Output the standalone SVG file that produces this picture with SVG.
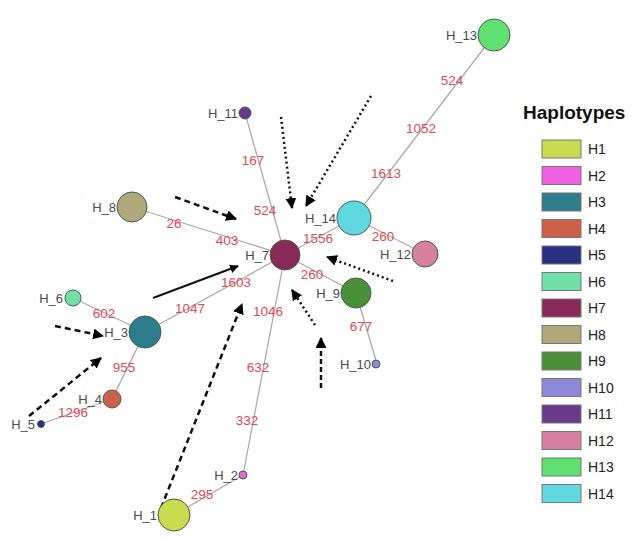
<svg xmlns="http://www.w3.org/2000/svg" width="644" height="540" viewBox="0 0 644 540">
<defs>
<marker id="ah" viewBox="0 0 10 10" refX="9" refY="5" markerWidth="4.4" markerHeight="4.4" orient="auto" markerUnits="strokeWidth">
<path d="M0,0 L10,5 L0,10 z" fill="#000"/>
</marker>
<style>
.e{stroke:#aaaaaa;stroke-width:1.3;fill:none}
.n{stroke:#4a5a50;stroke-width:1}
.nl{font-family:"Liberation Sans",Arial,sans-serif;font-size:13px;fill:#4a4a4a;text-anchor:end}
.w{font-family:"Liberation Sans",Arial,sans-serif;font-size:13.5px;fill:#e04a55;text-anchor:middle}
.dash{stroke:#111;stroke-width:2.5;stroke-dasharray:6 4;fill:none}
.dot{stroke:#111;stroke-width:2.5;stroke-dasharray:2 3;fill:none}
.sol{stroke:#111;stroke-width:2;fill:none}
.sw{stroke:#777;stroke-width:1}
.lt{font-family:"Liberation Sans",Arial,sans-serif;font-size:14px;fill:#222}
</style>
</defs>
<rect width="644" height="540" fill="#fff"/>
<g id="connectors">
<line class="e" x1="494" y1="35" x2="354" y2="218"/>
<line class="e" x1="354" y1="218" x2="285" y2="255"/>
<line class="e" x1="354" y1="218" x2="425" y2="254"/>
<line class="e" x1="285" y1="255" x2="245" y2="113"/>
<line class="e" x1="285" y1="255" x2="132" y2="207"/>
<line class="e" x1="285" y1="255" x2="145" y2="332"/>
<line class="e" x1="285" y1="255" x2="356" y2="293"/>
<line class="e" x1="356" y1="293" x2="377" y2="364"/>
<line class="e" x1="285" y1="255" x2="243" y2="475"/>
<line class="e" x1="243" y1="475" x2="174" y2="515"/>
<line class="e" x1="145" y1="332" x2="73" y2="298"/>
<line class="e" x1="145" y1="332" x2="112" y2="399"/>
<line class="e" x1="112" y1="399" x2="41" y2="424"/>
<g id="weights">
<text class="w" x="452" y="85">524</text>
<text class="w" x="421" y="133">1052</text>
<text class="w" x="386" y="178">1613</text>
<text class="w" x="318" y="243">1556</text>
<text class="w" x="383" y="241">260</text>
<text class="w" x="253" y="165">167</text>
<text class="w" x="265" y="215">524</text>
<text class="w" x="174" y="228">26</text>
<text class="w" x="227" y="245">403</text>
<text class="w" x="236" y="287">1603</text>
<text class="w" x="190" y="313">1047</text>
<text class="w" x="312" y="279">260</text>
<text class="w" x="361" y="331">677</text>
<text class="w" x="268" y="316">1046</text>
<text class="w" x="258" y="372">632</text>
<text class="w" x="247" y="425">332</text>
<text class="w" x="202" y="499">295</text>
<text class="w" x="104" y="318">602</text>
<text class="w" x="124" y="372">955</text>
<text class="w" x="73" y="417">1296</text>
</g>
<g id="arrows">
<line class="dash" x1="175" y1="197" x2="236" y2="219" marker-end="url(#ah)"/>
<line class="dot" x1="281" y1="117" x2="292" y2="208" marker-end="url(#ah)"/>
<line class="dot" x1="371" y1="96" x2="306" y2="206" marker-end="url(#ah)"/>
<line class="dot" x1="393" y1="281" x2="327" y2="257" marker-end="url(#ah)"/>
<line class="dot" x1="315" y1="325" x2="292" y2="290" marker-end="url(#ah)"/>
<line class="dash" x1="321" y1="388" x2="321" y2="338" marker-end="url(#ah)" style="stroke-dasharray:5 3"/>
<line class="sol" x1="153" y1="298" x2="238" y2="266" marker-end="url(#ah)"/>
<line class="dash" x1="55" y1="326" x2="103" y2="336" marker-end="url(#ah)"/>
<line class="dash" x1="29" y1="416" x2="101" y2="358" marker-end="url(#ah)"/>
<line class="dash" x1="161" y1="508" x2="242" y2="304" marker-end="url(#ah)"/>
</g>
</g>
<g id="H_13"><circle class="n" cx="494" cy="35" r="16" fill="#60e070"/><text class="nl" x="477" y="40">H_13</text></g>
<g id="H_14"><circle class="n" cx="354" cy="218" r="17" fill="#60d8e0"/><text class="nl" x="336" y="223">H_14</text></g>
<g id="H_12"><circle class="n" cx="425" cy="254" r="13" fill="#d880a0"/><text class="nl" x="411" y="259">H_12</text></g>
<g id="H_7"><circle class="n" cx="285" cy="255" r="15" fill="#8a2a5a"/><text class="nl" x="269" y="260">H_7</text></g>
<g id="H_11"><circle class="n" cx="245" cy="113" r="6" fill="#6a3a8a"/><text class="nl" x="238" y="118">H_11</text></g>
<g id="H_8"><circle class="n" cx="132" cy="207" r="15" fill="#b0a878"/><text class="nl" x="116" y="212">H_8</text></g>
<g id="H_9"><circle class="n" cx="356" cy="293" r="15" fill="#4a9038"/><text class="nl" x="340" y="298">H_9</text></g>
<g id="H_10"><circle class="n" cx="376" cy="364" r="4" fill="#9088d8"/><text class="nl" x="371" y="369">H_10</text></g>
<g id="H_6"><circle class="n" cx="73" cy="298" r="8" fill="#70e0a8"/><text class="nl" x="63" y="303">H_6</text></g>
<g id="H_3"><circle class="n" cx="145" cy="332" r="16" fill="#2e7d8a"/><text class="nl" x="128" y="337">H_3</text></g>
<g id="H_4"><circle class="n" cx="112" cy="399" r="9" fill="#cc6048"/><text class="nl" x="102" y="404">H_4</text></g>
<g id="H_5"><circle class="n" cx="41" cy="424" r="3.5" fill="#283080"/><text class="nl" x="35" y="429">H_5</text></g>
<g id="H_2"><circle class="n" cx="243" cy="475" r="4" fill="#e070d0"/><text class="nl" x="238" y="480">H_2</text></g>
<g id="H_1"><circle class="n" cx="174" cy="515" r="16" fill="#c8dc50"/><text class="nl" x="157" y="520">H_1</text></g>
<g id="legend">
<text x="523" y="119" font-family="Liberation Sans,Arial,sans-serif" font-size="19" font-weight="bold" fill="#111">Haplotypes</text>
<rect class="sw" x="542" y="140" width="39" height="18" fill="#c8dc50"/><text class="lt" x="588" y="154">H1</text>
<rect class="sw" x="542" y="166.5" width="39" height="18" fill="#f060e0"/><text class="lt" x="588" y="180.5">H2</text>
<rect class="sw" x="542" y="193" width="39" height="18" fill="#2e7d8a"/><text class="lt" x="588" y="207">H3</text>
<rect class="sw" x="542" y="219.5" width="39" height="18" fill="#cc6048"/><text class="lt" x="588" y="233.5">H4</text>
<rect class="sw" x="542" y="246" width="39" height="18" fill="#283080"/><text class="lt" x="588" y="260">H5</text>
<rect class="sw" x="542" y="272.5" width="39" height="18" fill="#70e0a8"/><text class="lt" x="588" y="286.5">H6</text>
<rect class="sw" x="542" y="299" width="39" height="18" fill="#8a2a5a"/><text class="lt" x="588" y="313">H7</text>
<rect class="sw" x="542" y="325.5" width="39" height="18" fill="#b0a878"/><text class="lt" x="588" y="339.5">H8</text>
<rect class="sw" x="542" y="352" width="39" height="18" fill="#4a9038"/><text class="lt" x="588" y="366">H9</text>
<rect class="sw" x="542" y="378.5" width="39" height="18" fill="#9088d8"/><text class="lt" x="588" y="392.5">H10</text>
<rect class="sw" x="542" y="405" width="39" height="18" fill="#6a3a8a"/><text class="lt" x="588" y="419">H11</text>
<rect class="sw" x="542" y="431.5" width="39" height="18" fill="#d880a0"/><text class="lt" x="588" y="445.5">H12</text>
<rect class="sw" x="542" y="458" width="39" height="18" fill="#60e070"/><text class="lt" x="588" y="472">H13</text>
<rect class="sw" x="542" y="484.5" width="39" height="18" fill="#60d8e0"/><text class="lt" x="588" y="498.5">H14</text>
</g>
</svg>
